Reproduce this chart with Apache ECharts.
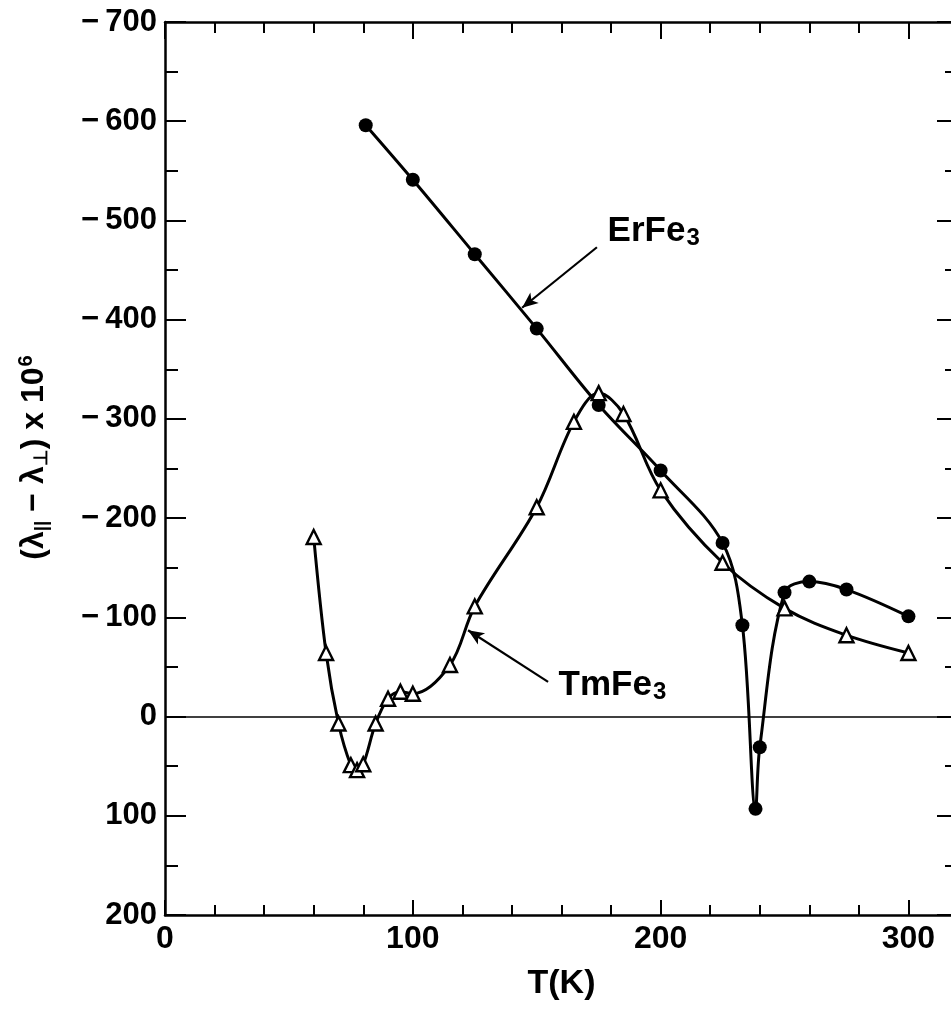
<!DOCTYPE html>
<html>
<head>
<meta charset="utf-8">
<script src="https://cdn.jsdelivr.net/npm/echarts@6/dist/echarts.min.js"></script>
<style>
html,body{margin:0;padding:0;background:#fff;}
#c{width:951px;height:1009px;}
</style>
</head>
<body>
<div id="c"></div>
<script>
// ---- data ----
var tempEr = [81, 100, 125, 150, 175, 200, 225, 233, 238.3, 240, 250, 260, 275, 300];
var valEr  = [-596, -541, -466, -391, -314, -248, -175, -92, 93, 31, -125, -136, -128, -101];
var tempTm = [60, 65, 70, 75, 77.5, 80, 85, 90, 95, 100, 115, 125, 150, 165, 175, 185, 200, 225, 250, 275, 300];
var valTm  = [-181, -64, 7, 49, 54, 48, 7, -18, -25, -23, -52, -111, -211, -297, -326, -305, -228, -155, -109, -82, -64];
var xTickLabels = [0, 100, 200, 300];
var yTickLabels = [-700, -600, -500, -400, -300, -200, -100, 0, 100, 200];
// annotation anchors (data units): text position and arrow [from, to]
var erLabel = [178.4, -489];
var erArrow = [[174.3, -473], [144.1, -412]];
var tmLabel = [158.6, -31];
var tmArrow = [[154.6, -35], [122.3, -87]];

var FONT = '"Liberation Sans Narrow", "Liberation Sans", Arial, sans-serif';

function zip(a, b) { return a.map(function (v, i) { return [v, b[i]]; }); }

function fmtY(v) {
  if (yTickLabels.indexOf(v) < 0) return '';
  return v < 0 ? '\u2212\u2009' + Math.abs(v) : String(v);
}
function fmtX(v) { return xTickLabels.indexOf(v) < 0 ? '' : String(v); }

var lineCol = '#000';
function xAx(pos, interval, len, withLine, withLabel) {
  return {
    type: 'value', position: pos, min: 0, max: 320, interval: interval,
    axisLine: { show: withLine, onZero: false, lineStyle: { color: lineCol, width: 2.5 } },
    axisTick: { show: true, inside: true, length: len, lineStyle: { color: lineCol, width: 2 } },
    axisLabel: withLabel ? { show: true, formatter: fmtX, color: '#000', fontFamily: FONT, fontWeight: 'bold', fontSize: 32, margin: 8 } : { show: false },
    splitLine: { show: false },
    name: withLabel ? 'T(K)' : '',
    nameLocation: 'middle', nameGap: 52,
    nameTextStyle: { color: '#000', fontFamily: FONT, fontWeight: 'bold', fontSize: 34 }
  };
}
function yAx(pos, interval, len, withLine, withLabel) {
  return {
    type: 'value', position: pos, min: -700, max: 200, interval: interval, inverse: true,
    axisLine: { show: withLine, onZero: false, lineStyle: { color: lineCol, width: 2.5 } },
    axisTick: { show: true, inside: true, length: len, lineStyle: { color: lineCol, width: 2 } },
    axisLabel: withLabel ? { show: true, formatter: fmtY, color: '#000', fontFamily: FONT, fontWeight: 'bold', fontSize: 31, margin: 8 } : { show: false },
    splitLine: { show: false },
    name: withLabel ? '{p|(\u03bb}{s|||}{p| \u2212 \u03bb}{s|\u22a5}{p|) x 10}{u|6}' : '',
    nameLocation: 'middle', nameRotate: 90, nameGap: 112,
    nameTextStyle: {
      color: '#000', fontFamily: FONT, fontWeight: 'bold', fontSize: 32,
      padding: [0, 0, 0, 22],
      rich: {
        p: { fontFamily: FONT, fontWeight: 'bold', fontSize: 32, color: '#000' },
        s: { fontFamily: FONT, fontWeight: 'bold', fontSize: 19, color: '#000', padding: [15, 0, 0, 0] },
        u: { fontFamily: FONT, fontWeight: 'bold', fontSize: 20, color: '#000', padding: [0, 0, 17, 1] }
      }
    }
  };
}

function labelRich() {
  return {
    a: { fontFamily: FONT, fontWeight: 'bold', fontSize: 35, color: '#000' },
    b: { fontFamily: FONT, fontWeight: 'bold', fontSize: 24, color: '#000', padding: [14, 0, 0, 1] }
  };
}

var chart = echarts.init(document.getElementById('c'), null, { renderer: 'canvas' });
chart.setOption({
  backgroundColor: '#fff',
  animation: false,
  grid: { left: 165, top: 22, width: 793, height: 893, outerBoundsMode: 'none', containLabel: false },
  xAxis: [
    xAx('bottom', 20, 10, true, true),
    xAx('bottom', 100, 15, false, false),
    xAx('top', 20, 11, true, false),
    xAx('top', 100, 17, false, false)
  ],
  yAxis: [
    yAx('left', 50, 13, true, true),
    yAx('left', 100, 21, false, false),
    yAx('right', 50, 13, true, false),
    yAx('right', 100, 21, false, false)
  ],
  series: [
    {
      name: 'ErFe3', type: 'line', xAxisIndex: 0, yAxisIndex: 0,
      data: zip(tempEr, valEr), smooth: 0.35,
      symbol: 'circle', symbolSize: 14,
      lineStyle: { color: '#000', width: 3 },
      itemStyle: { color: '#000' },
      z: 3,
      markLine: {
        silent: true, animation: false,
        symbol: ['none', 'none'],
        label: { show: false },
        lineStyle: { color: '#000', width: 1.5, type: 'solid' },
        data: [{ yAxis: 0 }]
      }
    },
    {
      name: 'TmFe3', type: 'line', xAxisIndex: 0, yAxisIndex: 0,
      data: zip(tempTm, valTm), smooth: 0.35,
      symbol: 'triangle', symbolSize: 14,
      lineStyle: { color: '#000', width: 3 },
      itemStyle: { color: '#fff', borderColor: '#000', borderWidth: 2.4 },
      z: 4
    },
    {
      name: 'annotations', type: 'line', xAxisIndex: 0, yAxisIndex: 0,
      data: [], silent: true,
      markLine: {
        silent: true, animation: false,
        symbol: ['none', 'arrow'], symbolSize: [10, 16],
        label: { show: false },
        lineStyle: { color: '#000', width: 2.2, type: 'solid' },
        data: [
          [{ coord: erArrow[0] }, { coord: erArrow[1] }],
          [{ coord: tmArrow[0] }, { coord: tmArrow[1] }]
        ]
      },
      markPoint: {
        silent: true, animation: false,
        symbol: 'circle', symbolSize: 1,
        itemStyle: { color: 'rgba(0,0,0,0)' },
        label: {
          show: true, position: 'right', distance: 0,
          formatter: function (p) { return '{a|' + p.name + '}{b|3}'; },
          rich: labelRich()
        },
        data: [
          { name: 'ErFe', coord: erLabel },
          { name: 'TmFe', coord: tmLabel }
        ]
      }
    }
  ]
});
</script>
</body>
</html>
